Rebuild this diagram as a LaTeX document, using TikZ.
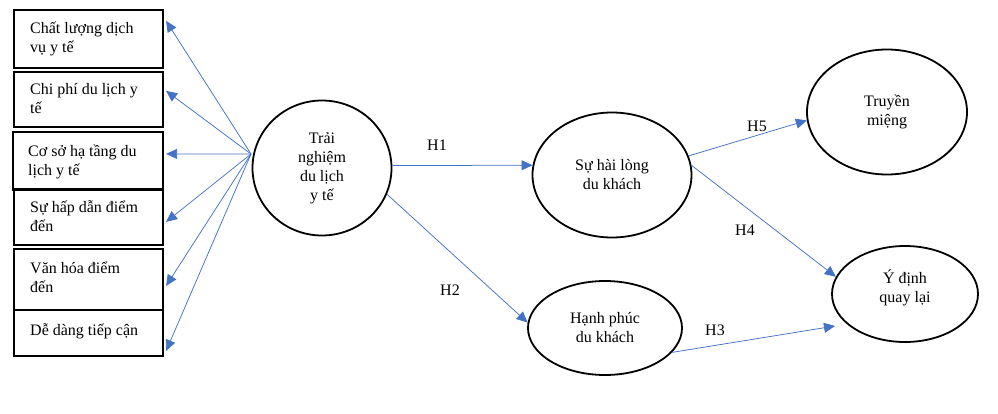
\documentclass[tikz,border=0pt]{standalone}
\usepackage{fontspec}
\setmainfont{Liberation Serif}
\usetikzlibrary{arrows.meta,shapes.geometric,calc}
\definecolor{arrblue}{HTML}{4472C4}
\begin{document}
\begin{tikzpicture}[x=1pt,y=-1pt,
  txt/.style={font=\fontsize{16}{19}\selectfont, inner sep=0pt},
  box/.style={draw=black, line width=2.2pt, inner sep=0pt},
  boxtext/.style={txt, align=left, anchor=base west},
  oval/.style={ellipse, draw=black, line width=1.8pt, inner sep=0pt, align=center, font=\fontsize{16}{19}\selectfont},
  arr/.style={draw=arrblue, line width=0.75pt, -{Triangle[length=11pt,width=10pt]}}]
\useasboundingbox (0,0) rectangle (998,414);
% left boxes
\node[box, minimum width=149pt, minimum height=58pt] (b1) at (88.5,39) {};
\node[box, minimum width=149pt, minimum height=55pt] (b2) at (88.5,99.5) {};
\node[box, minimum width=150pt, minimum height=58pt] (b3) at (88,161) {};
\node[box, minimum width=149pt, minimum height=56pt] (b4) at (88.5,217) {};
\node[box, minimum width=149pt, minimum height=61pt] (b5) at (88.5,279.5) {};
\node[box, minimum width=149pt, minimum height=46pt] (b6) at (88.5,333) {};
\node[boxtext] (t1) at (30,53) {Chất lượng dịch\\vụ y tế};
\node[boxtext] (t2) at (30,114) {Chi phí du lịch y\\tế};
\node[boxtext] (t3) at (28,176) {Cơ sở hạ tầng du\\lịch y tế};
\node[boxtext] (t4) at (30,231) {Sự hấp dẫn điểm\\đến};
\node[boxtext] (t5) at (30,292) {Văn hóa điểm\\đến};
\node[boxtext] (t6) at (30,335) {Dễ dàng tiếp cận};
% ovals
\node[oval, minimum width=139pt, minimum height=135pt] (c) at (322,168) {Trải\\nghiệm\\du lịch\\y tế};
\node[oval, minimum width=159pt, minimum height=125pt] (s) at (612,175) {Sự hài lòng\\du khách};
\node[oval, minimum width=160pt, minimum height=125pt] (t) at (887,112) {Truyền\\miệng};
\node[oval, minimum width=146pt, minimum height=96pt] (y) at (905,294) {Ý định\\quay lại\rule[-16pt]{0pt}{16pt}};
\node[oval, minimum width=154pt, minimum height=94pt] (h) at (605,328) {Hạnh phúc\\du khách};
% fan arrows
\coordinate (hub) at (251,154);
\foreach \b/\d in {b1/12,b2/20,b3/23,b4/34,b5/38,b6/42}
  \draw[arr] (hub) -- ($(\b.north east)+(2,\d)$);
% hypothesis arrows
\coordinate (h3end) at (835,326);
\draw[arr] (c.2) -- (s.173);
\draw[arr] (c.-22) -- (h.176);
\draw[arr] (s.14) -- (t.186);
\draw[arr] (s.7) -- (y.166);
\draw[arr] (h.-20) -- (h3end);
% labels
\node[txt] (l1) at (437,145) {H1};
\node[txt] (l2) at (450,290) {H2};
\node[txt] (l3) at (715,330) {H3};
\node[txt] (l4) at (745,230) {H4};
\node[txt] (l5) at (757,126) {H5};
\end{tikzpicture}
\end{document}
